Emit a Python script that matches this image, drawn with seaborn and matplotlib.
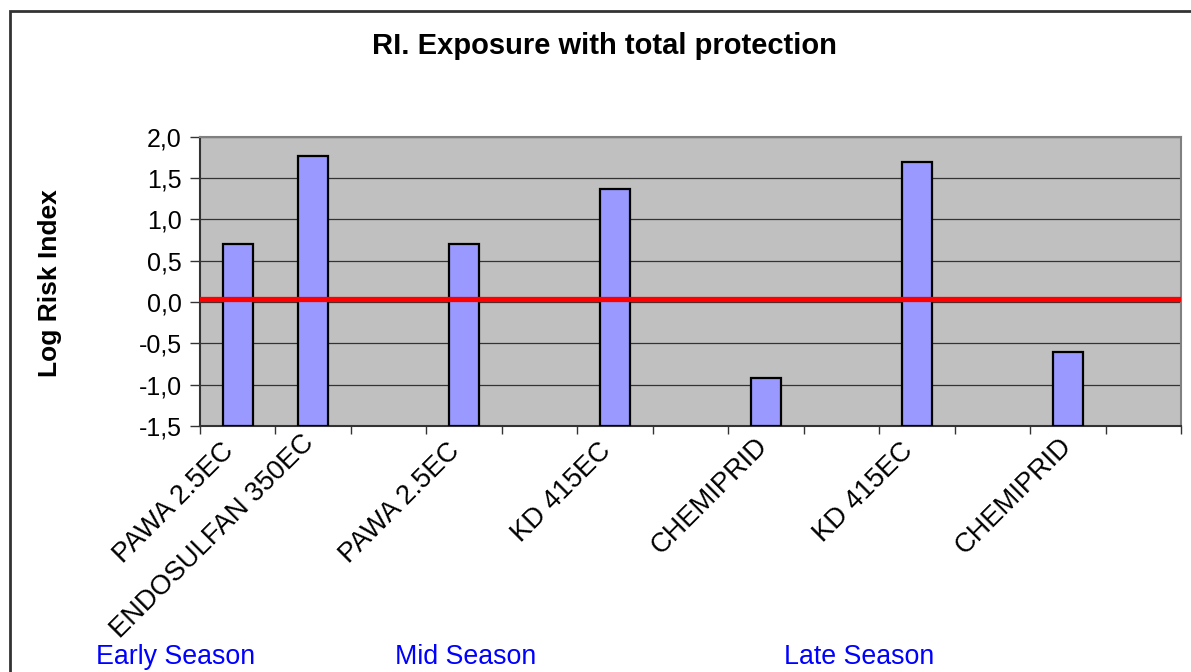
import numpy as np
import pandas as pd
import matplotlib
matplotlib.use("Agg")
import matplotlib.pyplot as plt
import seaborn as sns
from matplotlib.patches import Rectangle
from matplotlib.ticker import FixedLocator, FuncFormatter
from matplotlib.transforms import ScaledTranslation

# ---- data ----
category_ids = [f"c{i}" for i in range(13)]
category_labels = ["PAWA 2.5EC", "ENDOSULFAN 350EC", "", "PAWA 2.5EC", "",
                   "KD 415EC", "", "CHEMIPRID", "", "KD 415EC", "", "CHEMIPRID", ""]
log_risk = [0.70, 1.77, np.nan, 0.70, np.nan, 1.37, np.nan, -0.92, np.nan,
            1.69, np.nan, -0.61, np.nan]
threshold = 0.04
seasons = ["Early Season", "Mid Season", "Late Season"]
yticks = [-1.5, -1.0, -0.5, 0.0, 0.5, 1.0, 1.5, 2.0]
axis_base = -1.5

df = pd.DataFrame({"cat": category_ids, "value": log_risk})

sns.set_theme(style="white")
plt.rcParams['font.family'] = ['Liberation Sans', 'DejaVu Sans']
plt.rcParams.update({"text.color": "black", "axes.labelcolor": "black",
                     "xtick.color": "black", "ytick.color": "black"})

W, H = 1191, 672
fig = plt.figure(figsize=(W / 100, H / 100), dpi=100)
ax = fig.add_axes([200 / W, 1 - 426 / H, (1181 - 200) / W, (426 - 136.7) / H])
ax.set_facecolor("#C0C0C0")

plot_df = df.dropna()
sns.barplot(data=plot_df, x="cat", y="value", order=category_ids, ax=ax,
            color="#9999FF", saturation=1, width=0.4, edgecolor="black",
            linewidth=1.6, zorder=3, errorbar=None)

# Excel-style: bars rise from the axis floor
for p in ax.patches:
    val = p.get_y() + p.get_height()
    p.set_y(axis_base)
    p.set_height(val - axis_base)

ax.axhline(threshold, color="#FF0000", linewidth=3.8, zorder=4)

ax.set_xlim(-0.5, len(category_ids) - 0.5)
ax.set_ylim(-1.5, 2.0)
ax.yaxis.set_major_locator(FixedLocator(yticks))
ax.yaxis.set_major_formatter(FuncFormatter(lambda v, pos: f"{v:.1f}".replace(".", ",")))
ax.grid(axis="y", color="#333333", linewidth=0.9, zorder=1)
ax.set_axisbelow(True)

ax.set_xticks(range(len(category_ids)))
ax.set_xticklabels(category_labels, rotation=45, ha="right", va="center",
                   rotation_mode="anchor", fontsize=19.6)
ax.set_xticks(np.arange(-0.5, len(category_ids), 1.0), minor=True)
ax.tick_params(axis="x", which="major", length=0, pad=15)
ax.tick_params(axis="x", which="minor", length=6, width=1, color="#333333",
               direction="out", bottom=True)
ax.tick_params(axis="y", length=7, width=1, color="#333333", direction="out",
               left=True, labelsize=18, pad=6)
label_shift = {1: (0.05, 0.08), 7: (0.06, 0.05), 11: (0.08, 0.05)}  # inches, layout only
for i, lbl in enumerate(ax.get_xticklabels()):
    dx, dy = label_shift.get(i, (0.0, 0.0))
    lbl.set_transform(lbl.get_transform() +
                      ScaledTranslation(-0.08 + dx, dy, fig.dpi_scale_trans))

for side, sp in ax.spines.items():
    sp.set_visible(True)
    sp.set_color("#808080")
    sp.set_linewidth(1.5)
ax.spines["left"].set_color("#333333")
ax.spines["bottom"].set_color("#333333")

ax.set_xlabel("")
ax.set_ylabel("Log Risk Index", fontsize=19, fontweight="bold")
ax.yaxis.set_label_coords((62 - 200) / (1181 - 200), (426 - 283) / (426 - 136.7))

fig.text(604 / W, 1 - 46 / H, "RI. Exposure with total protection",
         ha="center", va="center", fontsize=21, fontweight="bold")

season_x = [175.5, 465.5, 859]
for sx, s in zip(season_x, seasons):
    fig.text(sx / W, 1 - 657 / H, s, ha="center", va="center", fontsize=19.3,
             color="#0000FF")

fig.patches.append(Rectangle((10 / W, -0.1), 1.2, (1 - 11 / H) + 0.1,
                             transform=fig.transFigure, fill=False,
                             edgecolor="#333333", linewidth=2))

fig.savefig("out.png", dpi=100, facecolor="white")
